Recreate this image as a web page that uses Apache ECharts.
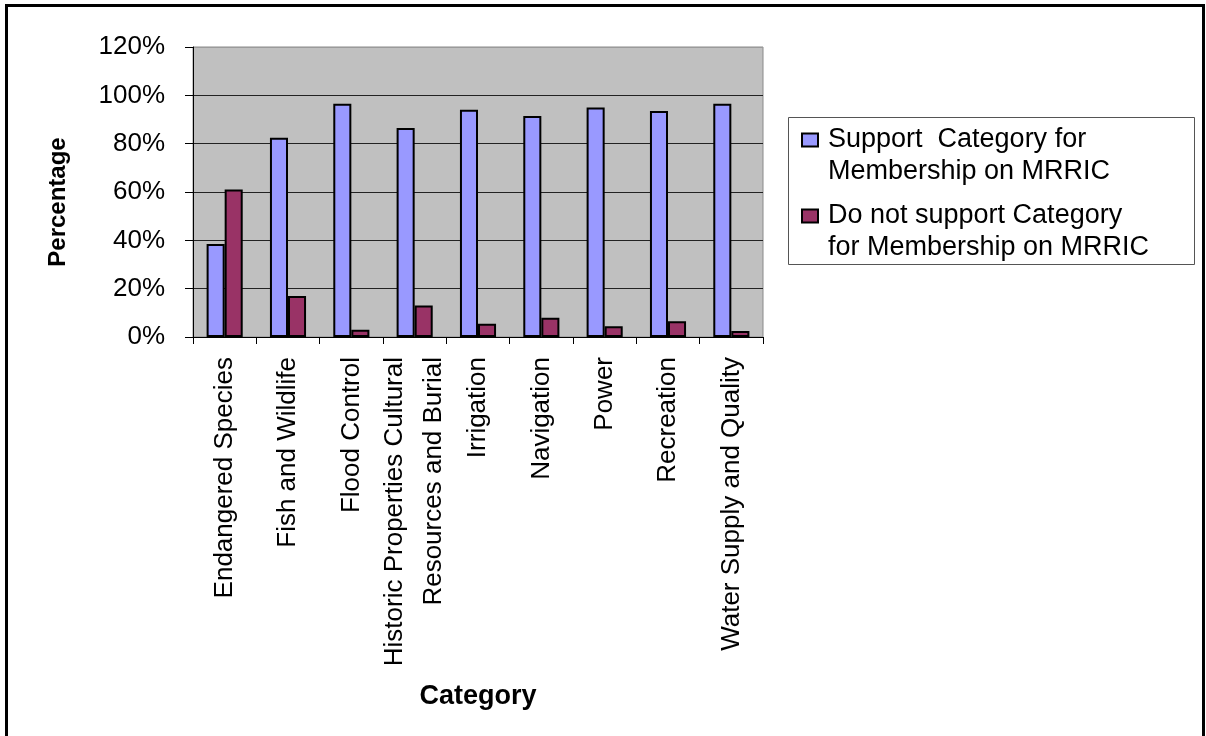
<!DOCTYPE html>
<html>
<head>
<meta charset="utf-8">
<script src="https://cdn.jsdelivr.net/npm/echarts@6/dist/echarts.min.js"></script>
<style>
html,body{margin:0;padding:0;background:#fff;}
#chart{width:1206px;height:736px;}
</style>
</head>
<body>
<div id="chart"></div>
<script>
var categories = [
  'Endangered Species',
  'Fish and Wildlife',
  'Flood Control',
  'Historic Properties Cultural\nResources and Burial',
  'Irrigation',
  'Navigation',
  'Power',
  'Recreation',
  'Water Supply and Quality'
];
var seriesNames = [
  'Support  Category for Membership on MRRIC',
  'Do not support Category for Membership on MRRIC'
];
var legendLines = {
  'Support  Category for Membership on MRRIC': 'Support  Category for\nMembership on MRRIC',
  'Do not support Category for Membership on MRRIC': 'Do not support Category\nfor Membership on MRRIC'
};
var supportValues = [38.5, 82.5, 96.5, 86.5, 94, 91.5, 95, 93.5, 96.5];
var notSupportValues = [61, 17, 3, 13, 5.5, 8, 4.5, 6.5, 2.5];
var yTicks = {min: 0, max: 120, interval: 20};

var FONT = '"Liberation Sans", Arial, sans-serif';
var chart = echarts.init(document.getElementById('chart'));
chart.setOption({
  animation: false,
  backgroundColor: '#ffffff',
  graphic: [
    {type: 'rect', z: -10, shape: {x: 6.5, y: 5.5, width: 1197, height: 800},
     style: {fill: 'none', stroke: '#000', lineWidth: 3}},
    {type: 'rect', z: 1, shape: {x: 788.5, y: 117.5, width: 406, height: 147},
     style: {fill: 'none', stroke: '#555', lineWidth: 1}}
  ],
  grid: {
    left: 193, right: 443, top: 47, bottom: 399,
    show: true, backgroundColor: '#C0C0C0', borderColor: '#8a8a8a', borderWidth: 1
  },
  legend: {
    orient: 'vertical',
    left: 801, top: 123,
    padding: 0,
    itemGap: 10,
    itemWidth: 16, itemHeight: 64,
    icon: 'path://M0,0 M0,9.5 h16 v13 h-16 Z M16,64',
    formatter: function (n) { return legendLines[n] || n; },
    textStyle: {fontFamily: FONT, fontSize: 27, lineHeight: 32, color: '#000', padding: [0, 0, 0, 5]},
    data: seriesNames
  },
  xAxis: {
    type: 'category',
    data: categories,
    name: 'Category',
    nameLocation: 'middle',
    nameGap: 346,
    nameTextStyle: {fontFamily: FONT, fontSize: 27, fontWeight: 'bold', color: '#000'},
    axisLine: {show: true, lineStyle: {color: '#000', width: 1}},
    axisTick: {show: true, length: 7, lineStyle: {color: '#000'}},
    axisLabel: {
      interval: 0, rotate: 90, margin: 20,
      fontFamily: FONT, fontSize: 26, lineHeight: 39, color: '#000'
    }
  },
  yAxis: {
    type: 'value',
    min: yTicks.min, max: yTicks.max, interval: yTicks.interval,
    name: 'Percentage',
    nameLocation: 'middle',
    nameGap: 123,
    nameTextStyle: {fontFamily: FONT, fontSize: 24, fontWeight: 'bold', color: '#000', padding: [0, 20, 0, 0]},
    axisLine: {show: true, lineStyle: {color: '#000', width: 1}},
    axisTick: {show: true, length: 8, lineStyle: {color: '#000'}},
    axisLabel: {margin: 28, formatter: '{value}%', fontFamily: FONT, fontSize: 26, color: '#000'},
    splitLine: {show: true, lineStyle: {color: ['#222', '#222', '#222', '#222', '#222', '#222', '#9a9a9a'], width: 1}}
  },
  series: [
    {
      name: seriesNames[0], type: 'bar', data: supportValues,
      barGap: '0%', barCategoryGap: '43%',
      itemStyle: {color: '#9999FF', borderColor: '#000', borderWidth: 2}
    },
    {
      name: seriesNames[1], type: 'bar', data: notSupportValues,
      barGap: '0%', barCategoryGap: '43%',
      itemStyle: {color: '#993366', borderColor: '#000', borderWidth: 2}
    }
  ]
});
</script>
</body>
</html>
